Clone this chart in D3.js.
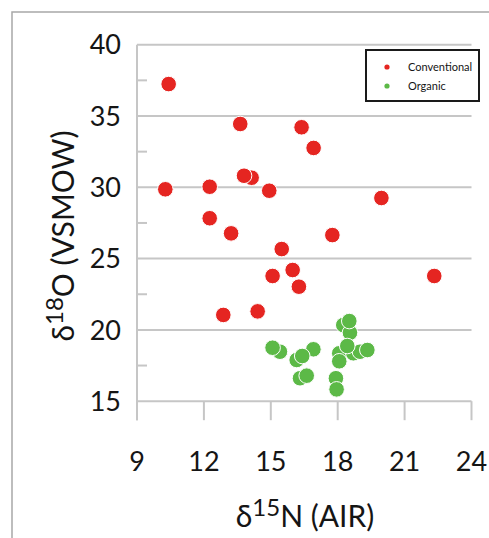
<!DOCTYPE html>
<html>
<head>
<meta charset="utf-8">
<script src="https://cdn.jsdelivr.net/npm/d3@7"></script>
<style>
  body { margin: 0; background: #fff; }
  text { font-family: Lato, "Open Sans", sans-serif; fill: #151515; }
</style>
</head>
<body>
<svg id="chart" width="489" height="538"></svg>
<script>
// data
const seriesNames = ["Conventional", "Organic"];
const seriesColors = ["#e52521", "#5cb947"];

const conventionalN = [10.42, 10.27, 12.26, 12.26, 13.22, 13.63, 14.14, 13.80, 14.93, 16.38,
  16.92, 15.49, 15.08, 15.98, 16.26, 12.87, 14.41, 17.76, 19.96, 22.33];
const conventionalO = [37.24, 29.86, 30.04, 27.83, 26.77, 34.44, 30.67, 30.81, 29.76, 34.21,
  32.76, 25.67, 23.78, 24.20, 23.03, 21.05, 21.30, 26.65, 29.25, 23.78];

const organicN = [15.41, 15.08, 16.16, 16.91, 16.41, 16.31, 16.61, 18.25, 18.55, 18.52,
  18.07, 18.70, 19.00, 19.33, 18.43, 17.92, 17.95, 18.07];
const organicO = [18.47, 18.75, 17.89, 18.64, 18.17, 16.61, 16.79, 20.34, 19.80, 20.62,
  18.36, 18.36, 18.47, 18.59, 18.87, 16.61, 15.83, 17.80];

const xTicks = [9, 12, 15, 18, 21, 24];
const yTicks = [15, 20, 25, 30, 35, 40];
const yMinorTicks = [17.5, 22.5, 27.5, 32.5, 37.5];

const svg = d3.select("#chart");

// outer frame
svg.append("rect")
  .attr("x", 12).attr("y", 12)
  .attr("width", 520).attr("height", 560)
  .attr("fill", "none")
  .attr("stroke", "#a8a8a8")
  .attr("stroke-width", 1.5);

const x = d3.scaleLinear().domain([9, 24]).range([137, 471.5]);
const y = d3.scaleLinear().domain([15, 40]).range([401.2, 44.7]);

const gridColor = "#c6c6c6";

// horizontal gridlines
svg.append("g")
  .selectAll("line")
  .data(yTicks)
  .join("line")
  .attr("x1", x(9)).attr("x2", x(24))
  .attr("y1", d => y(d)).attr("y2", d => y(d))
  .attr("stroke", gridColor)
  .attr("stroke-width", 2);

// minor ticks on the y axis
svg.append("g")
  .selectAll("line")
  .data(yMinorTicks)
  .join("line")
  .attr("x1", x(9)).attr("x2", x(9) + 10)
  .attr("y1", d => y(d)).attr("y2", d => y(d))
  .attr("stroke", gridColor)
  .attr("stroke-width", 2);

// y axis line
svg.append("line")
  .attr("x1", x(9)).attr("x2", x(9))
  .attr("y1", y(40)).attr("y2", y(15) + 19)
  .attr("stroke", gridColor)
  .attr("stroke-width", 2);

// x axis ticks (downward)
svg.append("g")
  .selectAll("line")
  .data(xTicks)
  .join("line")
  .attr("x1", d => x(d)).attr("x2", d => x(d))
  .attr("y1", y(15)).attr("y2", y(15) + 19)
  .attr("stroke", gridColor)
  .attr("stroke-width", 2);

// tick labels
svg.append("g")
  .selectAll("text")
  .data(yTicks)
  .join("text")
  .attr("x", 121)
  .attr("y", d => y(d))
  .attr("dy", "0.36em")
  .attr("text-anchor", "end")
  .attr("font-size", 27)
  .text(d => d);

svg.append("g")
  .selectAll("text")
  .data(xTicks)
  .join("text")
  .attr("x", d => x(d))
  .attr("y", 471)
  .attr("text-anchor", "middle")
  .attr("font-size", 27)
  .text(d => d);

// axis titles
const xTitle = svg.append("text")
  .attr("x", 305).attr("y", 527)
  .attr("text-anchor", "middle")
  .attr("font-size", 30);
xTitle.append("tspan").text("δ");
xTitle.append("tspan").attr("dy", -11).attr("font-size", 24).text("15");
xTitle.append("tspan").attr("dy", 11).text("N (AIR)");

const yTitle = svg.append("text")
  .attr("transform", "translate(74,236) rotate(-90)")
  .attr("text-anchor", "middle")
  .attr("font-size", 30);
yTitle.append("tspan").text("δ");
yTitle.append("tspan").attr("dy", -11).attr("font-size", 24).text("18");
yTitle.append("tspan").attr("dy", 11).text("O (VSMOW)");

// points
const series = [
  d3.zip(conventionalN, conventionalO),
  d3.zip(organicN, organicO)
];

series.forEach((pts, i) => {
  svg.append("g")
    .selectAll("circle")
    .data(pts)
    .join("circle")
    .attr("cx", d => x(d[0]))
    .attr("cy", d => y(d[1]))
    .attr("r", 7.8)
    .attr("fill", seriesColors[i])
    .attr("stroke", "#fff")
    .attr("stroke-width", 1);
});

// legend
const legend = svg.append("g");
legend.append("rect")
  .attr("x", 366).attr("y", 50)
  .attr("width", 113).attr("height", 51)
  .attr("fill", "#fff")
  .attr("stroke", "#1a1a1a")
  .attr("stroke-width", 2);

seriesNames.forEach((name, i) => {
  legend.append("circle")
    .attr("cx", 387).attr("cy", 67 + i * 19)
    .attr("r", 2.6)
    .attr("fill", seriesColors[i]);
  legend.append("text")
    .attr("x", 408).attr("y", 67 + i * 19)
    .attr("dy", "0.36em")
    .attr("font-size", 11)
    .text(name);
});
</script>
</body>
</html>
